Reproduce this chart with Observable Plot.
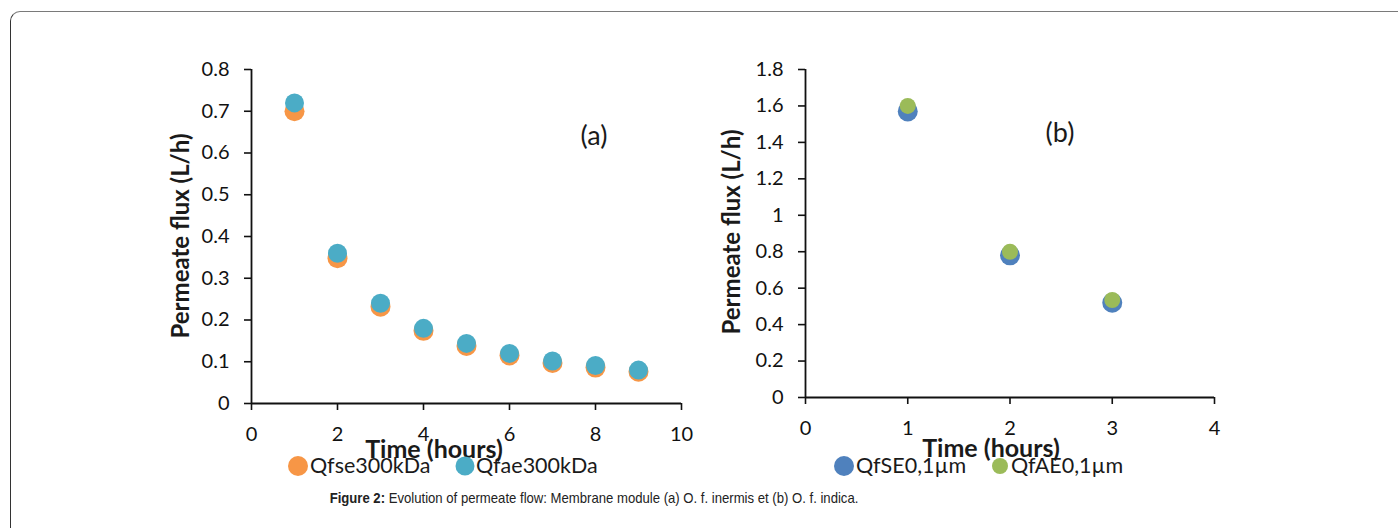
<!DOCTYPE html>
<html><head><meta charset="utf-8">
<script src="https://cdn.jsdelivr.net/npm/d3@7"></script>
<script src="https://cdn.jsdelivr.net/npm/@observablehq/plot@0.6"></script>
<style>
body{margin:0;background:#fff;}
#root{position:relative;width:1398px;height:528px;overflow:hidden;font-family:Lato,"Open Sans",sans-serif;color:#1a1a1a;}
#frame{position:absolute;left:10px;top:11px;width:1430px;height:600px;border:1.5px solid #7a7a7a;border-left-color:#333;border-radius:10px;box-sizing:border-box;}
.abs{position:absolute;white-space:nowrap;line-height:1;}
.c{transform:translate(-50%,-50%);}
.ytitle{font-weight:bold;font-size:24px;transform:translate(-50%,-50%) rotate(-90deg);}
.xtitle{font-weight:bold;font-size:25px;}
.panel{font-size:27px;}
.leg{font-size:21.5px;transform:translateY(-50%);}
.sw{position:absolute;border-radius:50%;transform:translate(-50%,-50%);}
.plot{position:absolute;top:0;}
#cap{font-family:"Liberation Sans",Arial,sans-serif;font-size:14.5px;color:#222;transform:translate(-50%,-50%) scaleX(0.905);}
</style></head>
<body><div id="root"><div id="frame"></div></div>
<script>
// ---- data ----
const hoursA = [1, 2, 3, 4, 5, 6, 7, 8, 9];
const qfse300kDa = [0.70, 0.348, 0.232, 0.174, 0.138, 0.115, 0.097, 0.086, 0.076];
const qfae300kDa = [0.72, 0.36, 0.24, 0.18, 0.144, 0.12, 0.102, 0.091, 0.080];
const hoursB = [1, 2, 3];
const qfse01um = [1.57, 0.78, 0.52];
const qfae01um = [1.60, 0.80, 0.535];
const seriesA = ["Qfse300kDa", "Qfae300kDa"];
const seriesB = ["QfSE0,1µm", "QfAE0,1µm"];
const colorsA = ["#F79646", "#4BACC6"];
const colorsB = ["#4F81BD", "#9BBB59"];
const xTicksA = [0, 2, 4, 6, 8, 10];
const yTicksA = [0, 0.1, 0.2, 0.3, 0.4, 0.5, 0.6, 0.7, 0.8];
const xTicksB = [0, 1, 2, 3, 4];
const yTicksB = [0, 0.2, 0.4, 0.6, 0.8, 1, 1.2, 1.4, 1.6, 1.8];
const yTitle = "Permeate flux (L/h)";
const xTitle = "Time (hours)";

const rowsA = [
  ...hoursA.map((h, i) => ({h, v: qfse300kDa[i], s: seriesA[0]})),
  ...hoursA.map((h, i) => ({h, v: qfae300kDa[i], s: seriesA[1]}))
];
const rowsB = [
  ...hoursB.map((h, i) => ({h, v: qfse01um[i], s: seriesB[0]})),
  ...hoursB.map((h, i) => ({h, v: qfae01um[i], s: seriesB[1]}))
];

const root = document.getElementById("root");
const fmt = d => String(d);

function panel({rows, series, colors, radii, xDomain, yDomain, xTicks, yTicks, width, height, m}) {
  return Plot.plot({
    width, height,
    marginLeft: m[0], marginRight: m[1], marginTop: m[2], marginBottom: m[3],
    x: {domain: xDomain},
    y: {domain: yDomain},
    color: {domain: series, range: colors},
    style: {fontFamily: "Lato, 'Open Sans', sans-serif", fontSize: "20px", background: "transparent", overflow: "visible"},
    marks: [
      Plot.axisX({ticks: xTicks, tickSize: 7, tickPadding: 16, strokeWidth: 1.6, color: "#111", label: null, tickFormat: fmt}),
      Plot.axisY({ticks: yTicks, tickSize: 7, tickPadding: 15, strokeWidth: 1.6, color: "#111", label: null, tickFormat: fmt}),
      Plot.ruleX([xDomain[0]], {stroke: "#111", strokeWidth: 1.8}),
      Plot.ruleY([yDomain[0]], {stroke: "#111", strokeWidth: 1.8}),
      Plot.dot(rows.filter(d => d.s === series[0]), {x: "h", y: "v", r: radii[0], fill: "s", stroke: null}),
      Plot.dot(rows.filter(d => d.s === series[1]), {x: "h", y: "v", r: radii[1], fill: "s", stroke: null})
    ]
  });
}

const pa = panel({rows: rowsA, series: seriesA, colors: colorsA, radii: [10, 9.5],
  xDomain: [0, 10], yDomain: [0, 0.8], xTicks: xTicksA, yTicks: yTicksA,
  width: 700, height: 430, m: [251, 19, 69, 27]});
pa.classList.add("plot"); pa.style.left = "0px";
root.appendChild(pa);

const pb = panel({rows: rowsB, series: seriesB, colors: colorsB, radii: [10, 8],
  xDomain: [0, 4], yDomain: [0, 1.8], xTicks: xTicksB, yTicks: yTicksB,
  width: 560, height: 430, m: [105, 46, 69, 33]});
pb.classList.add("plot"); pb.style.left = "700px";
root.appendChild(pb);

function el(cls, text, x, y, extra) {
  const d = document.createElement("div");
  d.className = "abs " + cls;
  d.textContent = text;
  d.style.left = x + "px"; d.style.top = y + "px";
  if (extra) Object.assign(d.style, extra);
  root.appendChild(d);
  return d;
}
// axis titles
el("ytitle", yTitle, 180, 236);
el("ytitle", yTitle, 731, 232);
el("xtitle c", xTitle, 434, 448);
el("xtitle c", xTitle, 991, 447);
// panel labels
el("panel c", "(a)", 594, 134);
el("panel c", "(b)", 1060, 131);
// legends
function sw(x, y, r, color) {
  const d = document.createElement("div");
  d.className = "sw";
  Object.assign(d.style, {left: x + "px", top: y + "px", width: 2 * r + "px", height: 2 * r + "px", background: color});
  root.appendChild(d);
}
sw(298, 466, 10, colorsA[0]); el("leg", seriesA[0], 310, 466);
sw(465, 466, 9.5, colorsA[1]); el("leg", seriesA[1], 476, 466);
sw(844, 466, 10, colorsB[0]); el("leg", seriesB[0], 856, 466);
sw(1000, 466, 8, colorsB[1]); el("leg", seriesB[1], 1011, 466);
// caption
const cap = el("", "", 594, 498, {});
cap.id = "cap";
cap.innerHTML = "<b>Figure 2:</b> Evolution of permeate flow: Membrane module (a) O. f. inermis et (b) O. f. indica.";
</script>
</body></html>
